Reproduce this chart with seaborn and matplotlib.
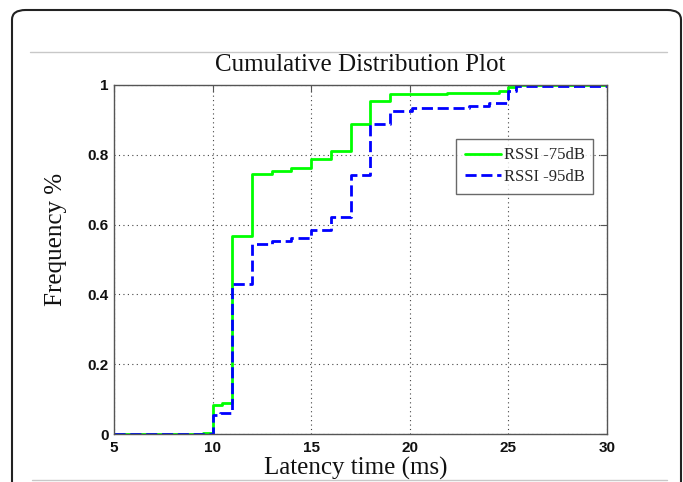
import matplotlib
matplotlib.use("Agg")
import matplotlib.pyplot as plt
import seaborn as sns
from matplotlib.patches import FancyBboxPatch
from matplotlib.lines import Line2D

# ---- data (step starts, values) ----
green_x = [5, 9.5, 10, 10.5, 11, 12, 13, 14, 15, 16, 17, 18, 19, 21.9, 24.5, 25, 25.4, 30]
green_y = [0, 0.004, 0.083, 0.089, 0.567, 0.745, 0.754, 0.762, 0.787, 0.811, 0.888, 0.955,
           0.974, 0.976, 0.984, 0.995, 1.0, 1.0]
blue_x = [5, 10, 10.4, 11, 12, 13, 14, 15, 16, 17, 18, 19, 20.1, 23, 24, 25, 25.4, 30]
blue_y = [0, 0.054, 0.061, 0.429, 0.544, 0.554, 0.561, 0.584, 0.623, 0.742, 0.888, 0.926,
          0.934, 0.940, 0.948, 0.984, 0.997, 0.997]
labels = ["RSSI -75dB", "RSSI -95dB"]
x_ticks = [5, 10, 15, 20, 25, 30]
y_ticks = [0, 0.2, 0.4, 0.6, 0.8, 1]
y_tick_labels = ["0", "0.2", "0.4", "0.6", "0.8", "1"]

sns.set_style("white")
plt.rcParams["font.family"] = ["Liberation Serif", "DejaVu Serif"]

W, H = 683, 482
fig = plt.figure(figsize=(W / 100, H / 100), dpi=100)
ax = fig.add_axes([114 / W, 1 - 434 / H, (607 - 114) / W, (434 - 85) / H])

sns.lineplot(x=green_x, y=green_y, ax=ax, drawstyle="steps-post", estimator=None,
             sort=False, color="#00ff00", lw=2.0, label=labels[0])
sns.lineplot(x=blue_x, y=blue_y, ax=ax, drawstyle="steps-post", estimator=None,
             sort=False, color="#0000ff", lw=2.0, linestyle=(0, (4, 1.7)), label=labels[1])

ax.set_xlim(5, 30)
ax.set_ylim(0, 1)
ax.set_xticks(x_ticks)
ax.set_xticklabels([str(v) for v in x_ticks])
ax.set_yticks(y_ticks)
ax.set_yticklabels(y_tick_labels)
ax.grid(True, linestyle=(0, (1, 3)), color="#444444", lw=0.8)
for s in ax.spines.values():
    s.set_visible(True)
    s.set_color("#555555")
    s.set_linewidth(1.0)
ax.tick_params(direction="in", top=True, right=True, length=5, width=0.8,
               color="#555555", pad=4)
ax.tick_params(axis="x", pad=5)
for lab in ax.get_xticklabels() + ax.get_yticklabels():
    lab.set_fontfamily(["Liberation Sans", "DejaVu Sans"])
    lab.set_fontweight("bold")
    lab.set_fontsize(11)
    lab.set_color("#111111")

ax.set_title("Cumulative Distribution Plot", fontsize=18, pad=10, color="#111111")
ax.set_xlabel("Latency time (ms)", fontsize=18, color="#111111")
ax.set_ylabel("Frequency %", fontsize=18, color="#111111")
ax.xaxis.set_label_coords((356 - 114) / 493, (434 - 457) / 349)
ax.yaxis.set_label_coords((67 - 114) / 493, (434 - 239) / 349)

leg = ax.legend(loc="upper right", bbox_to_anchor=((593 - 114) / 493, (434 - 139) / 349),
                borderaxespad=0, fancybox=False, frameon=True, fontsize=12,
                handlelength=2.2, borderpad=0.5, labelspacing=0.35, handletextpad=0.15)
leg.get_frame().set_edgecolor("#444444")
leg.get_frame().set_linewidth(1.0)

# figure frame and separator lines
frame = FancyBboxPatch((12 / W, -0.05), (681 - 12) / W, 1.05 - 10 / H,
                       boxstyle="round,pad=0,rounding_size=0.02",
                       transform=fig.transFigure, fill=False, ec="#222222", lw=1.5,
                       clip_on=False)
fig.patches.append(frame)
fig.add_artist(Line2D([30 / W, 667 / W], [1 - 52 / H, 1 - 52 / H], transform=fig.transFigure,
                      color="#c8c8c8", lw=1.0))
fig.add_artist(Line2D([32 / W, 667 / W], [1 - 480 / H, 1 - 480 / H], transform=fig.transFigure,
                      color="#c8c8c8", lw=1.0))

fig.savefig("out.png", dpi=100)
